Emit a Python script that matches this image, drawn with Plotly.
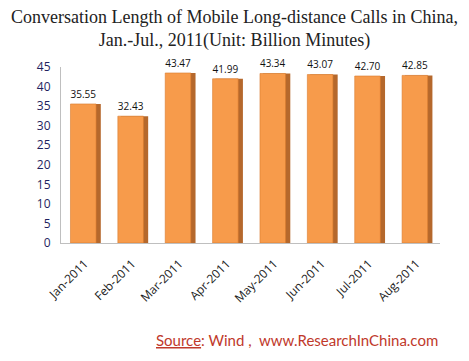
import plotly.graph_objects as go

months = ["Jan-2011", "Feb-2011", "Mar-2011", "Apr-2011", "May-2011", "Jun-2011", "Jul-2011", "Aug-2011"]
minutes = [35.55, 32.43, 43.47, 41.99, 43.34, 43.07, 42.70, 42.85]
y_ticks = [0, 5, 10, 15, 20, 25, 30, 35, 40, 45]

fig = go.Figure()
# side face (darker) for a 3D-like look
fig.add_trace(go.Bar(
    x=months, y=minutes, width=0.58, offset=-0.24,
    marker=dict(color="#B5682C", line=dict(width=0)),
    hoverinfo="skip", showlegend=False,
))
# front face
fig.add_trace(go.Bar(
    x=months, y=minutes, width=0.54, offset=-0.30,
    marker=dict(color="#F79B4B", line=dict(color="#D97A2E", width=0.6)),
    text=[f"{v:.2f}" for v in minutes], textposition="outside",
    textfont=dict(family="Open Sans, Liberation Sans, sans-serif", size=13, color="#111111"),
    cliponaxis=False, showlegend=False,
))

fig.update_layout(
    width=469, height=361,
    paper_bgcolor="white", plot_bgcolor="white",
    barmode="overlay",
    margin=dict(l=53, r=37, t=59, b=126),
    xaxis=dict(
        tickangle=-45, showgrid=False, showline=True, linecolor="#BFBFBF",
        ticks="", ticklabelstandoff=8,
        tickfont=dict(family="Open Sans, Liberation Sans, sans-serif", size=12, color="#222222"),
        range=[-0.5, 7.5],
    ),
    yaxis=dict(
        range=[0, 45], tickvals=y_ticks, showgrid=False, showline=True, linecolor="#BFBFBF",
        ticks="", zeroline=False, ticklabelstandoff=7,
        tickfont=dict(family="Open Sans, Liberation Sans, sans-serif", size=12, color="#1F1F5F"),
    ),
    annotations=[
        dict(
            text="Conversation Length of Mobile Long-distance Calls in China,<br>Jan.-Jul., 2011(Unit: Billion Minutes)",
            xref="paper", yref="paper", x=0.459, y=1.35, xanchor="center", yanchor="top",
            showarrow=False, align="center",
            font=dict(family="Liberation Serif, serif", size=18, color="#222222"),
        ),
        dict(
            text="<u>Source</u>: Wind ,  www.ResearchInChina.com",
            xref="paper", yref="paper", x=1.0, y=-0.551, xanchor="right", yanchor="middle",
            showarrow=False,
            font=dict(family="Lato, Liberation Sans, sans-serif", size=15, color="#C0392B"),
        ),
    ],
)

fig.write_html("out.html")
